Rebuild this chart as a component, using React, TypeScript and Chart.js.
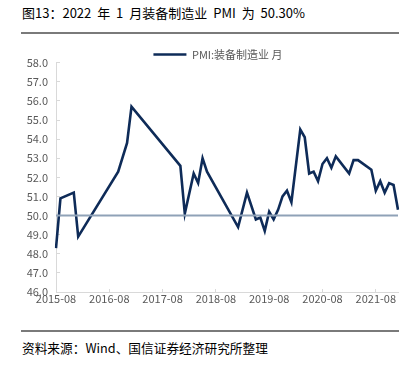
import { useEffect, useRef } from 'react';
import { Chart, registerables } from 'chart.js';

Chart.register(...registerables);

const months = [
  '2015-08', '2015-09', '2015-10', '2015-11', '2015-12',
  '2016-01', '2016-02', '2016-03', '2016-04', '2016-05', '2016-06', '2016-07', '2016-08', '2016-09', '2016-10', '2016-11', '2016-12',
  '2017-01', '2017-02', '2017-03', '2017-04', '2017-05', '2017-06', '2017-07', '2017-08', '2017-09', '2017-10', '2017-11', '2017-12',
  '2018-01', '2018-02', '2018-03', '2018-04', '2018-05', '2018-06', '2018-07', '2018-08', '2018-09', '2018-10', '2018-11', '2018-12',
  '2019-01', '2019-02', '2019-03', '2019-04', '2019-05', '2019-06', '2019-07', '2019-08', '2019-09', '2019-10', '2019-11', '2019-12',
  '2020-01', '2020-02', '2020-03', '2020-04', '2020-05', '2020-06', '2020-07', '2020-08', '2020-09', '2020-10', '2020-11', '2020-12',
  '2021-01', '2021-02', '2021-03', '2021-04', '2021-05', '2021-06', '2021-07', '2021-08', '2021-09', '2021-10', '2021-11', '2021-12',
  '2022-01',
];

const pmiValues: (number | null)[] = [
  48.3, 50.9, null, null, 51.2,
  48.9, null, null, null, null, null, null, null, null, 52.3, null, 53.8,
  55.7, null, null, null, null, null, null, null, null, null, null, 52.6,
  50.1, null, 52.2, 51.7, 53.0, 52.3, null, null, null, null, null, null,
  49.4, null, 51.2, null, 49.8, 49.9, 49.2, 50.2, 49.8, 50.3, 51.0, 51.3,
  50.7, null, 54.5, 54.1, 52.2, 52.3, 51.8, 52.7, 53.0, 52.5, 53.1, null,
  null, 52.2, 52.9, 52.9, null, null, 52.4, 51.3, 51.8, 51.2, 51.7, 51.6,
  50.3,
];

const xTickLabels = ['2015-08', '2016-08', '2017-08', '2018-08', '2019-08', '2020-08', '2021-08'];
const yMin = 46;
const yMax = 58;
const yStep = 1;
const refLevel = 50;
const seriesName = 'PMI:装备制造业 月';

const titleText = '图13：2022 年 1 月装备制造业 PMI 为 50.30%';
const sourceText = '资料来源：Wind、国信证券经济研究所整理';

const FONT = "'Noto Sans CJK SC', 'Noto Sans', sans-serif";

const legendHeightPlugin = {
  id: 'legendHeight',
  beforeInit(chart: any) {
    const legend = chart.legend;
    if (!legend) return;
    const origFit = legend.fit;
    legend.fit = function fit() {
      origFit.bind(legend)();
      this.height -= 7.3;
    };
  },
};

export default function App() {
  const ref = useRef<HTMLCanvasElement | null>(null);

  useEffect(() => {
    if (!ref.current) return;
    Chart.defaults.font.family = FONT;
    const chart = new Chart(ref.current, {
      type: 'line',
      data: {
        labels: months,
        datasets: [
          {
            label: seriesName,
            data: pmiValues,
            borderColor: '#0e2b58',
            backgroundColor: '#0e2b58',
            borderWidth: 2.6,
            pointRadius: 0,
            pointStyle: 'line',
            tension: 0,
            spanGaps: true,
            order: 1,
          },
          {
            label: 'ref',
            data: months.map(() => refLevel),
            borderColor: '#8fa2b7',
            backgroundColor: '#8fa2b7',
            borderWidth: 2,
            pointRadius: 0,
            tension: 0,
            order: 0,
          },
        ],
      },
      options: {
        animation: false,
        responsive: false,
        maintainAspectRatio: false,
        layout: { padding: { left: 22, right: 3, top: 0, bottom: 0 } },
        plugins: {
          legend: {
            display: true,
            position: 'top',
            labels: {
              filter: (item: any) => item.datasetIndex === 0,
              usePointStyle: true,
              pointStyle: 'line',
              pointStyleWidth: 33,
              boxHeight: 11,
              padding: 10,
              color: '#595959',
              font: { size: 11, family: FONT },
            },
          },
          tooltip: { enabled: false },
        },
        scales: {
          x: {
            type: 'category',
            offset: false,
            grid: { drawOnChartArea: false, tickLength: -3, color: '#d9d9d9' },
            border: { color: '#d9d9d9', width: 1 },
            ticks: {
              autoSkip: false,
              maxRotation: 0,
              minRotation: 0,
              padding: 3,
              color: '#595959',
              font: { size: 11, family: FONT },
              callback: (_v: any, idx: number) =>
                xTickLabels.includes(months[idx]) ? months[idx] : null,
            },
            afterFit: (s: any) => {
              s.height = 20;
            },
          },
          y: {
            type: 'linear',
            position: 'left',
            min: yMin,
            max: yMax,
            grid: { drawOnChartArea: false, tickLength: -4, color: '#d9d9d9' },
            border: { color: '#d9d9d9', width: 1 },
            ticks: {
              stepSize: yStep,
              padding: 12,
              color: '#595959',
              font: { size: 11, family: FONT },
              callback: (v: any) => Number(v).toFixed(1),
            },
            afterFit: (s: any) => {
              s.width = 34;
            },
          },
          yr: {
            type: 'linear',
            position: 'right',
            display: true,
            grid: { display: false, drawTicks: false },
            border: { display: false },
            ticks: { display: false },
            afterFit: (s: any) => {
              s.width = 16;
            },
          },
        },
      },
      plugins: [legendHeightPlugin],
    } as any);
    return () => chart.destroy();
  }, []);

  return (
    <div style={{ position: 'absolute', left: 0, top: 0, width: 417, height: 368, background: '#fff', fontFamily: FONT }}>
      <div style={{ position: 'absolute', left: 22, top: 4, fontSize: 13, lineHeight: '18px', color: '#000', whiteSpace: 'pre', wordSpacing: '3px' }}>
        {titleText}
      </div>
      <div style={{ position: 'absolute', left: 21, top: 32, width: 378, height: 2, background: '#7a7a7a' }} />
      <canvas ref={ref} width={417} height={273} style={{ position: 'absolute', left: 0, top: 39, width: 417, height: 273 }} />
      <div style={{ position: 'absolute', left: 21, top: 330, width: 378, height: 2, background: '#7a7a7a' }} />
      <div style={{ position: 'absolute', left: 22, top: 339, fontSize: 12.7, lineHeight: '18px', color: '#000', whiteSpace: 'nowrap' }}>
        {sourceText}
      </div>
    </div>
  );
}
